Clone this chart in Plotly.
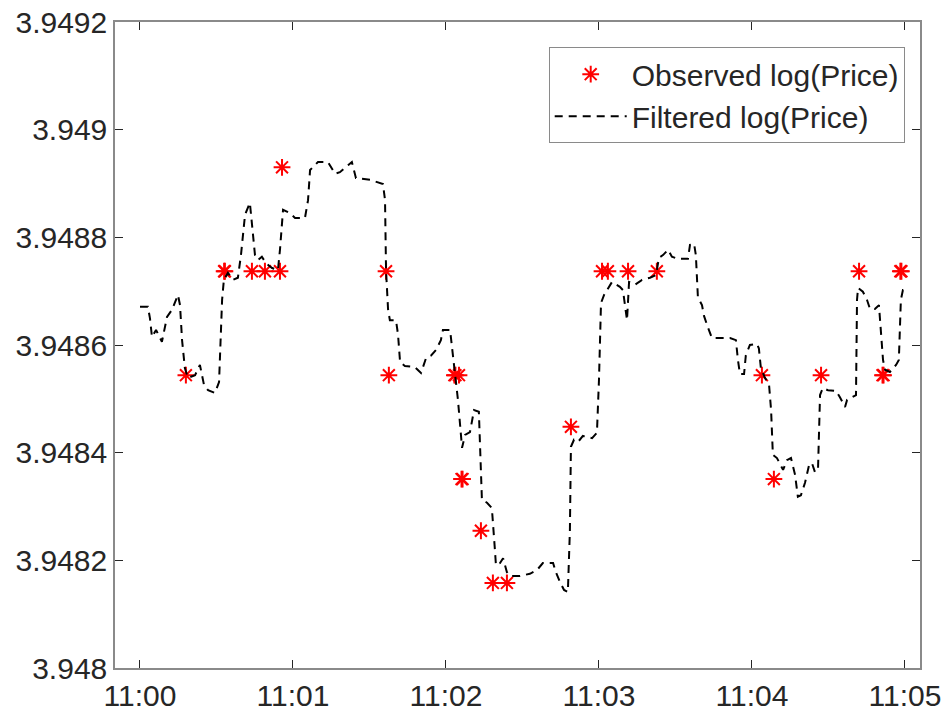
import plotly.graph_objects as go
import pandas as pd

# ---------------- data ----------------
base_time = pd.Timestamp("2024-01-01 11:00:00")

filt_t = [0, 3.1, 3.9, 4.7, 6.3, 8.6, 10.6, 12.5, 14.9, 15.7,
          16.5, 17.6, 18.8, 21.6, 23.5, 25.1, 26.7, 29.4, 31.0, 32.2,
          32.9, 34.5, 36.5, 38.4, 39.6, 41.2, 43.1, 43.9, 45.1, 46.3,
          47.8, 49.4, 51.8, 54.1, 54.9, 56.1, 58.8, 60.8, 64.7, 65.9,
          66.7, 69.8, 73.7, 76.5, 78.4, 81.6, 83.1, 84.7, 90.2, 95.3,
          96.1, 96.5, 97.3, 98.0, 100.4, 101.2, 102.0, 103.9, 107.8, 110.2,
          112.2, 114.1, 116.1, 118.0, 118.8, 121.6, 122.4, 123.5, 124.7, 126.3,
          127.5, 129.4, 131.0, 132.9, 133.3, 134.1, 136.1, 138.0, 139.2, 139.6,
          141.2, 142.4, 143.9, 145.1, 149.0, 152.9, 155.7, 158.0, 162.0, 163.1,
          164.7, 166.3, 167.8, 168.6, 169.0, 170.2, 171.8, 173.7, 177.3, 179.2,
          180.0, 180.8, 182.0, 183.5, 185.1, 188.2, 189.4, 191.0, 191.8, 194.1,
          196.9, 200.0, 202.4, 203.5, 205.1, 207.1, 208.6, 211.0, 214.9, 215.7,
          217.3, 218.0, 218.8, 220.4, 221.2, 222.7, 224.3, 231.4, 233.7, 234.5,
          235.3, 236.9, 237.6, 239.2, 241.9, 242.7, 243.5, 245.1, 246.7, 247.5,
          248.2, 249.8, 252.2, 253.7, 255.3, 256.9, 258.0, 259.2, 260.8, 262.4,
          263.5, 264.7, 265.9, 266.7, 267.8, 269.8, 272.9, 274.5, 276.5, 277.3,
          280.8, 281.2, 281.6, 283.5, 285.1, 286.3, 288.2, 289.8, 290.6, 291.4,
          292.2, 294.1, 296.5, 297.6, 298.4, 299.2, 300.0]

filt_v = [3.948671, 3.948671, 3.948650, 3.948615, 3.948628, 3.948606, 3.948652, 3.948665, 3.948693, 3.948674,
          3.948609, 3.948557, 3.948539, 3.948544, 3.948563, 3.948526, 3.948516, 3.948511, 3.948531, 3.948684,
          3.948721, 3.948734, 3.948721, 3.948725, 3.948767, 3.948842, 3.948864, 3.948829, 3.948767, 3.948758,
          3.948764, 3.948752, 3.948743, 3.948739, 3.948777, 3.948851, 3.948845, 3.948836, 3.948836, 3.948869,
          3.948925, 3.948940, 3.948940, 3.948918, 3.948921, 3.948934, 3.948940, 3.948910, 3.948907, 3.948899,
          3.948869, 3.948738, 3.948665, 3.948646, 3.948646, 3.948619, 3.948568, 3.948561, 3.948559, 3.948548,
          3.948576, 3.948580, 3.948591, 3.948609, 3.948628, 3.948628, 3.948591, 3.948544, 3.948498, 3.948409,
          3.948433, 3.948438, 3.948479, 3.948476, 3.948424, 3.948312, 3.948307, 3.948297, 3.948219, 3.948191,
          3.948195, 3.948204, 3.948178, 3.948171, 3.948171, 3.948175, 3.948182, 3.948195, 3.948195, 3.948178,
          3.948160, 3.948145, 3.948141, 3.948256, 3.948411, 3.948424, 3.948420, 3.948431, 3.948427, 3.948437,
          3.948535, 3.948678, 3.948693, 3.948706, 3.948717, 3.948708, 3.948702, 3.948646, 3.948717, 3.948712,
          3.948721, 3.948725, 3.948730, 3.948762, 3.948767, 3.948777, 3.948764, 3.948760, 3.948760, 3.948786,
          3.948788, 3.948767, 3.948689, 3.948674, 3.948654, 3.948633, 3.948613, 3.948613, 3.948609, 3.948572,
          3.948546, 3.948546, 3.948581, 3.948600, 3.948602, 3.948594, 3.948557, 3.948539, 3.948526, 3.948479,
          3.948396, 3.948390, 3.948368, 3.948386, 3.948390, 3.948359, 3.948318, 3.948321, 3.948344, 3.948377,
          3.948381, 3.948364, 3.948368, 3.948507, 3.948520, 3.948516, 3.948515, 3.948503, 3.948485, 3.948498,
          3.948507, 3.948684, 3.948706, 3.948699, 3.948684, 3.948667, 3.948667, 3.948674, 3.948628, 3.948572,
          3.948554, 3.948550, 3.948563, 3.948572, 3.948684, 3.948702, 3.948702]

obs_t = [18.0, 33.0, 33.3, 43.9, 49.0, 54.9, 55.7, 96.5, 97.6, 123.3,
         123.7, 125.1, 126.1, 126.5, 133.7, 138.4, 143.9, 169.0, 181.2, 183.5,
         191.4, 202.7, 243.9, 248.6, 267.1, 282.0, 291.2, 291.6, 298.2, 298.6]
obs_v = [3.948544, 3.948737, 3.948737, 3.948737, 3.948737, 3.948737, 3.948930, 3.948737, 3.948544, 3.948544,
         3.948544, 3.948544, 3.948351, 3.948351, 3.948255, 3.948158, 3.948158, 3.948448, 3.948737, 3.948737,
         3.948737, 3.948737, 3.948544, 3.948351, 3.948544, 3.948737, 3.948544, 3.948544, 3.948737, 3.948737]

x_tick_minutes = [0, 1, 2, 3, 4, 5]
x_tick_labels = ["11:00", "11:01", "11:02", "11:03", "11:04", "11:05"]
y_tick_vals = [3.948, 3.9482, 3.9484, 3.9486, 3.9488, 3.949, 3.9492]
y_tick_labels = ["3.948", "3.9482", "3.9484", "3.9486", "3.9488", "3.949", "3.9492"]
x_range_sec = [-9.8, 305.9]

# ---------------- figure ----------------
def to_time(secs):
    return [base_time + pd.Timedelta(seconds=s) for s in secs]

FONT = "Liberation Sans, Arial, Helvetica, sans-serif"
TXT = "#262626"
AX = "#8a8a8a"

fig = go.Figure()
fig.add_trace(go.Scatter(
    x=to_time(obs_t), y=obs_v, mode="markers", name="Observed log(Price)",
    marker=dict(symbol="asterisk-open", size=14, color="#ff0000",
                line=dict(color="#ff0000", width=2)),
))
fig.add_trace(go.Scatter(
    x=to_time(filt_t), y=filt_v, mode="lines", name="Filtered log(Price)",
    line=dict(color="#000000", width=2, dash="8px,6px"),
))

fig.update_layout(
    width=944, height=715,
    margin=dict(l=115, r=24, t=22, b=47),
    paper_bgcolor="white", plot_bgcolor="white",
    font=dict(family=FONT, size=30, color=TXT),
    showlegend=True,
    legend=dict(x=0.981, y=0.961, xanchor="right", yanchor="top",
                bgcolor="white", bordercolor=AX, borderwidth=1,
                font=dict(family=FONT, size=30, color=TXT),
                itemwidth=72, tracegroupgap=0),
)
fig.update_xaxes(
    type="date", automargin=False,
    range=to_time(x_range_sec),
    tickvals=to_time([m * 60 for m in x_tick_minutes]),
    ticktext=x_tick_labels,
    ticks="inside", ticklen=8, tickwidth=1, tickcolor=TXT,
    showline=True, linecolor=AX, linewidth=1.5, mirror="ticks",
    showgrid=False, zeroline=False,
    tickfont=dict(family=FONT, size=30, color=TXT),
)
fig.update_yaxes(
    automargin=False,
    range=[3.948, 3.9492],
    tickvals=y_tick_vals, ticktext=y_tick_labels,
    ticks="inside", ticklen=8, tickwidth=1, tickcolor=TXT,
    showline=True, linecolor=AX, linewidth=1.5, mirror="ticks",
    showgrid=False, zeroline=False,
    tickfont=dict(family=FONT, size=30, color=TXT),
)

fig.write_html("out.html")
